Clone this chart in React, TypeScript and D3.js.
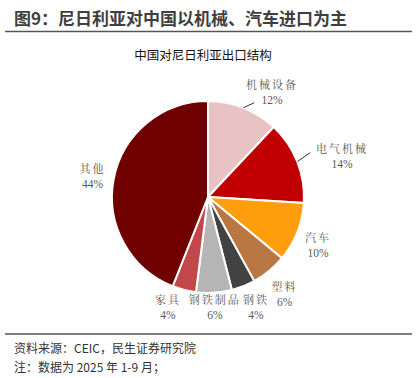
import React from "react";
import * as d3 from "d3";

const categories = ["机械设备", "电气机械", "汽车", "塑料", "钢铁", "钢铁制品", "家具", "其他"];
const shares = [12, 14, 10, 6, 4, 6, 4, 44];
const colors = ["#E9C3C3", "#C00000", "#FF9E0C", "#B97744", "#424242", "#B5B5B5", "#C2474A", "#700000"];

const W = 416;
const H = 378;
const cx = 208;
const cy = 197;
const R = 96;

// label nudges (layout only)
const nudges: [number, number][] = [
  [18, 11], [18, 5], [-6, 2], [-3, 1], [2, -6], [-1, -15], [-9, -11], [7, 2],
];
const leader = [true, true, false, false, false, false, false, false];

export default function App() {
  const pie = d3.pie<number>().sort(null).value((d) => d)(shares);
  const arc = d3.arc<d3.PieArcDatum<number>>().innerRadius(0).outerRadius(R);
  const labelArc = d3.arc<d3.PieArcDatum<number>>().innerRadius(R * 1.3).outerRadius(R * 1.3);
  const edgeArc = d3.arc<d3.PieArcDatum<number>>().innerRadius(R).outerRadius(R);
  const fmt = (v: number) => `${v}%`;
  const labelFont = "'Liberation Serif', 'Noto Serif CJK SC', 'Noto Sans CJK SC', serif";
  return (
    <svg width={W} height={H} style={{ position: "absolute", left: 0, top: 0, background: "#fff" }}>
      <text x={14} y={25} fontSize={17} fontWeight="bold" fill="#3f3f3f" fontFamily="'Noto Sans CJK SC', sans-serif">
        图9：尼日利亚对中国以机械、汽车进口为主
      </text>
      <line x1={5} x2={412} y1={31.5} y2={31.5} stroke="#555" strokeWidth={1.5} />
      <text x={203} y={60} textAnchor="middle" fontSize={12.5} fill="#111" fontFamily="'Noto Sans CJK SC', sans-serif">
        中国对尼日利亚出口结构
      </text>
      <g transform={`translate(${cx},${cy})`}>
        {pie.map((p, i) => (
          <path key={i} d={arc(p) || ""} fill={colors[i]} stroke="#fff" strokeWidth={2} />
        ))}
        {pie.map((p, i) => {
          const [lx, ly] = labelArc.centroid(p);
          const x = lx + nudges[i][0];
          const y = ly + nudges[i][1];
          const [ex, ey] = edgeArc.centroid(p);
          return (
            <g key={"l" + i}>
              {leader[i] && (
                <line
                  x1={ex}
                  y1={ey}
                  x2={ex + (i === 0 ? 11 : 13)}
                  y2={ey - (i === 0 ? 5 : 9)}
                  stroke="#333"
                  strokeWidth={1}
                />
              )}
              <text x={x} y={y - 3} textAnchor="middle" fontSize={11} fill="#595959" fontFamily={labelFont} letterSpacing={2}>
                {categories[i]}
              </text>
              <text x={x} y={y + 12} textAnchor="middle" fontSize={11.5} fill="#595959" fontFamily={labelFont}>
                {fmt(shares[i])}
              </text>
            </g>
          );
        })}
      </g>
      <line x1={5} x2={412} y1={334} y2={334} stroke="#555" strokeWidth={1.5} />
      <text x={14} y={353} fontSize={12} fill="#333" fontFamily="'Noto Sans CJK SC', sans-serif">
        资料来源：CEIC，民生证券研究院
      </text>
      <text x={14} y={372} fontSize={12} fill="#333" fontFamily="'Noto Sans CJK SC', sans-serif">
        注：数据为 2025 年 1-9 月；
      </text>
    </svg>
  );
}
